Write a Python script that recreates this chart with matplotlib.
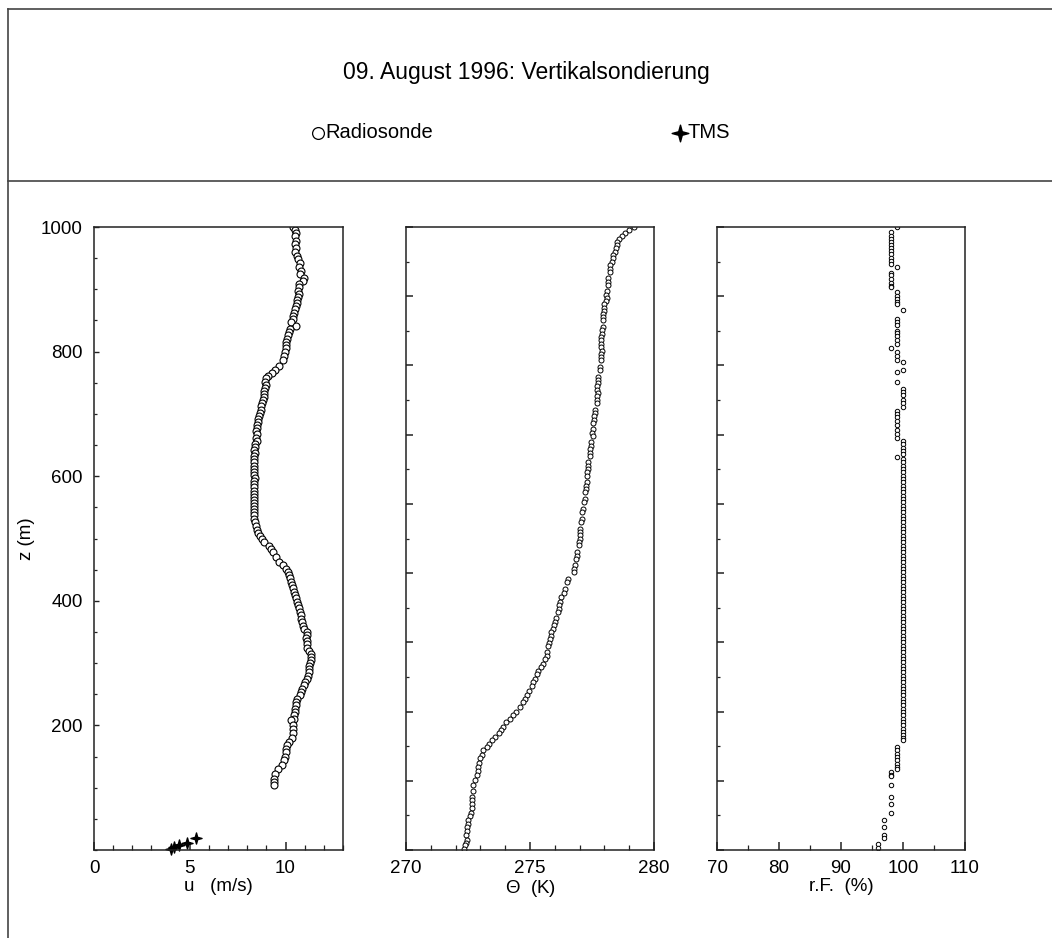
import numpy as np
import matplotlib
matplotlib.use('Agg')
import matplotlib.pyplot as plt
from matplotlib.lines import Line2D
from matplotlib.path import Path
from matplotlib.ticker import MultipleLocator, FixedLocator, NullFormatter

plt.rcParams['font.family'] = ['Liberation Sans', 'DejaVu Sans']
plt.rcParams['mathtext.fontset'] = 'custom'
plt.rcParams['mathtext.rm'] = 'Liberation Sans'
plt.rcParams['mathtext.it'] = 'Liberation Sans:italic'

TITLE = '09. August 1996: Vertikalsondierung'

# ── Radiosonde: wind speed u (m/s) vs height z (m) ──
u_z = [1000, 995, 990, 985, 978, 972, 966, 960, 954, 948, 942, 936, 930, 924, 918, 913,
       908, 903, 898, 893, 888, 883, 878, 873, 868, 862, 857, 852, 847, 841, 836, 831,
       826, 821, 816, 811, 806, 800, 793, 787, 777, 770, 766, 761, 757, 752, 747, 742,
       737, 732, 727, 722, 717, 712, 707, 702, 697, 692, 687, 682, 677, 672, 667, 662,
       657, 652, 647, 642, 637, 632, 627, 622, 617, 612, 607, 602, 597, 592, 587, 582,
       577, 572, 567, 562, 557, 552, 547, 542, 537, 532, 527, 520, 514, 509, 504, 499,
       494, 488, 483, 478, 470, 463, 457, 451, 446, 441, 436, 430, 425, 420, 414, 409,
       404, 398, 393, 388, 382, 377, 371, 366, 360, 355, 350, 345, 340, 335, 330, 325,
       320, 315, 310, 305, 300, 295, 290, 285, 280, 275, 270, 265, 259, 254, 248, 243,
       238, 232, 227, 222, 217, 211, 208, 200, 195, 188, 179, 173, 168, 162, 157, 150,
       144, 136, 130, 122, 114, 109, 104]
u_val = [10.4, 10.5, 10.55, 10.5, 10.55, 10.5, 10.55, 10.5, 10.6, 10.65, 10.75, 10.7, 10.8, 10.75, 10.95, 10.9,
         10.7, 10.7, 10.65, 10.7, 10.65, 10.6, 10.6, 10.55, 10.5, 10.45, 10.4, 10.4, 10.3, 10.55, 10.25, 10.2,
         10.15, 10.1, 10.05, 10.0, 10.0, 9.95, 9.9, 9.85, 9.65, 9.45, 9.3, 9.1, 9.0, 8.95, 9.0, 8.95,
         8.9, 8.85, 8.85, 8.8, 8.75, 8.7, 8.7, 8.65, 8.6, 8.55, 8.55, 8.5, 8.5, 8.45, 8.5, 8.45,
         8.5, 8.4, 8.4, 8.35, 8.4, 8.35, 8.35, 8.35, 8.35, 8.35, 8.35, 8.35, 8.4, 8.35, 8.35, 8.35,
         8.35, 8.35, 8.35, 8.35, 8.35, 8.35, 8.35, 8.35, 8.35, 8.35, 8.4, 8.45, 8.5, 8.55, 8.65, 8.75,
         8.9, 9.15, 9.25, 9.35, 9.5, 9.65, 9.85, 10.0, 10.15, 10.2, 10.25, 10.3, 10.35, 10.4, 10.45, 10.5,
         10.55, 10.6, 10.65, 10.7, 10.75, 10.8, 10.8, 10.85, 10.9, 10.95, 11.1, 11.1, 11.05, 11.1, 11.1, 11.1,
         11.25, 11.35, 11.35, 11.35, 11.3, 11.2, 11.2, 11.2, 11.15, 11.1, 11.0, 10.95, 10.85, 10.8, 10.75, 10.6,
         10.55, 10.55, 10.5, 10.5, 10.45, 10.45, 10.3, 10.4, 10.4, 10.4, 10.35, 10.2, 10.1, 10.05, 10.0, 9.95,
         9.9, 9.8, 9.6, 9.45, 9.4, 9.4, 9.4]

# ── TMS (tower) wind near the ground ──
tms_z = [2, 5, 8, 12, 19]
tms_u = [4.0, 4.2, 4.45, 4.85, 5.35]

# ── Radiosonde: potential temperature Theta (K) ──
th_z = [1000, 995, 990, 985, 981, 976, 971, 966, 960, 955, 950, 944, 939, 933, 928, 918, 912,
        907, 897, 891, 886, 881, 876, 870, 865, 860, 855, 850, 839, 834, 829, 823, 818,
        812, 807, 801, 796, 791, 786, 776, 770, 759, 754, 749, 744, 738, 733, 728, 722,
        717, 707, 702, 697, 691, 686, 675, 670, 665, 655, 649, 644, 638, 633, 623, 617,
        612, 606, 601, 590, 585, 580, 575, 564, 558, 548, 543, 532, 526, 516, 511, 506,
        499, 494, 489, 478, 472, 467, 457, 451, 446, 435, 430, 419, 413, 406, 398, 393,
        387, 382, 372, 366, 361, 355, 350, 344, 339, 333, 328, 318, 312, 306, 299, 294,
        288, 282, 275, 269, 264, 256, 248, 243, 237, 229, 221, 217, 211, 205, 197, 192,
        187, 181, 176, 170, 165, 160, 153, 147, 140, 133, 127, 120, 112, 104, 95, 85,
        80, 74, 67, 60, 54, 48, 42, 37, 30, 24, 16, 12, 8, 2]
th_val = [279.2, 279.0, 278.85, 278.7, 278.6, 278.52, 278.49, 278.47, 278.42, 278.35, 278.33, 278.29, 278.22, 278.22, 278.22, 278.15, 278.15,
          278.15, 278.1, 278.08, 278.1, 278.07, 278.0, 277.98, 278.0, 277.96, 277.95, 277.94, 277.93, 277.9, 277.9, 277.88, 277.88,
          277.86, 277.88, 277.9, 277.86, 277.88, 277.86, 277.82, 277.84, 277.75, 277.76, 277.74, 277.72, 277.72, 277.74, 277.7, 277.72,
          277.7, 277.61, 277.62, 277.58, 277.6, 277.56, 277.55, 277.52, 277.53, 277.44, 277.45, 277.42, 277.43, 277.4, 277.35, 277.34,
          277.33, 277.3, 277.3, 277.28, 277.26, 277.25, 277.22, 277.21, 277.18, 277.12, 277.1, 277.08, 277.05, 277.01, 277.0, 277.0,
          277.01, 276.98, 276.96, 276.9, 276.88, 276.86, 276.81, 276.78, 276.76, 276.54, 276.5, 276.41, 276.36, 276.27, 276.2, 276.18,
          276.16, 276.14, 276.05, 276.0, 275.95, 275.91, 275.86, 275.83, 275.8, 275.77, 275.74, 275.7, 275.67, 275.62, 275.54, 275.45,
          275.33, 275.27, 275.2, 275.13, 275.07, 274.97, 274.87, 274.8, 274.71, 274.58, 274.44, 274.33, 274.2, 274.03, 273.93, 273.83,
          273.73, 273.6, 273.46, 273.36, 273.26, 273.12, 273.05, 272.99, 272.96, 272.92, 272.89, 272.86, 272.8, 272.72, 272.7, 272.65,
          272.66, 272.65, 272.65, 272.63, 272.6, 272.52, 272.5, 272.45, 272.44, 272.42, 272.45, 272.41, 272.39, 272.32]

# ── Radiosonde: relative humidity r.F. (%) ──
rf_z = [1000, 992, 986, 981, 976, 971, 966, 961, 956, 950, 945, 940, 935, 926, 923, 916,
        910, 906, 903, 895, 890, 885, 879, 876, 866, 853, 848, 843, 833, 830, 825, 819,
        813, 806, 799, 793, 787, 783, 771, 767, 751, 740, 735, 730, 722, 717, 711, 705,
        700, 695, 689, 682, 674, 668, 662, 656, 651, 646, 640, 636, 631, 627, 622, 616,
        611, 606, 600, 595, 590, 584, 579, 574, 568, 563, 558, 552, 547, 542, 536, 531,
        526, 520, 515, 510, 504, 499, 494, 488, 483, 478, 472, 467, 462, 456, 451, 446,
        440, 435, 430, 424, 419, 414, 408, 403, 398, 392, 387, 382, 376, 371, 366, 360,
        355, 350, 344, 339, 334, 328, 323, 318, 312, 307, 302, 296, 291, 286, 280, 275,
        270, 264, 259, 254, 248, 243, 238, 232, 227, 222, 216, 211, 206, 200, 195, 190,
        184, 179, 176, 165, 160, 154, 149, 144, 138, 133, 130, 125, 120, 118, 104, 85,
        74, 60, 48, 37, 24, 19, 9, 3]
rf_val = [99, 98, 98, 98, 98, 98, 98, 98, 98, 98, 98, 98, 99, 98, 98, 98,
          98, 98, 98, 99, 99, 99, 99, 99, 100, 99, 99, 99, 99, 99, 99, 99,
          99, 98, 99, 99, 99, 100, 100, 99, 99, 100, 100, 100, 100, 100, 100, 99,
          99, 99, 99, 99, 99, 99, 99, 100, 100, 100, 100, 100, 99, 100, 100, 100,
          100, 100, 100, 100, 100, 100, 100, 100, 100, 100, 100, 100, 100, 100, 100, 100,
          100, 100, 100, 100, 100, 100, 100, 100, 100, 100, 100, 100, 100, 100, 100, 100,
          100, 100, 100, 100, 100, 100, 100, 100, 100, 100, 100, 100, 100, 100, 100, 100,
          100, 100, 100, 100, 100, 100, 100, 100, 100, 100, 100, 100, 100, 100, 100, 100,
          100, 100, 100, 100, 100, 100, 100, 100, 100, 100, 100, 100, 100, 100, 100, 100,
          100, 100, 100, 99, 99, 99, 99, 99, 99, 99, 99, 98, 98, 98, 98, 98,
          98, 98, 97, 97, 97, 97, 96, 96]

W, H = 1052, 938
fig = plt.figure(figsize=(W / 100, H / 100), dpi=100)

def frac(x0, x1, ytop=227, ybot=850):
    return [x0 / W, 1 - ybot / H, (x1 - x0) / W, (ybot - ytop) / H]

ax1 = fig.add_axes(frac(94, 343))
ax2 = fig.add_axes(frac(406, 654))
ax3 = fig.add_axes(frac(717, 965))

star = Path.unit_regular_star(4, 0.3)
circ = dict(marker='o', ls='none', mfc='white', mec='black')

ax1.plot(u_val, u_z, ms=5.0, mew=0.8, **circ)
ax1.plot(tms_u, tms_z, marker=star, ls='none', ms=8, color='black', clip_on=False)
ax2.plot(th_val, th_z, ms=3.6, mew=0.7, **circ)
ax3.plot(rf_val, rf_z, ms=3.2, mew=0.7, **circ)

ax1.set_xlim(0, 13)
ax2.set_xlim(270, 280)
ax3.set_xlim(70, 110)

for ax in (ax1, ax2, ax3):
    ax.set_ylim(0, 1000)
    for s in ax.spines.values():
        s.set_linewidth(1.1)
        s.set_color('#222222')
    ax.tick_params(axis='both', which='both', direction='in', top=False, right=False,
                   labelsize=13.5, color='#222222')
    ax.tick_params(axis='x', which='major', length=6, width=1.1, pad=7)
    ax.tick_params(axis='x', which='minor', length=3.5, width=0.9)

ax1.xaxis.set_major_locator(MultipleLocator(5))
ax1.xaxis.set_minor_locator(MultipleLocator(1))
ax2.xaxis.set_major_locator(MultipleLocator(5))
ax2.xaxis.set_minor_locator(MultipleLocator(1))
ax3.xaxis.set_major_locator(MultipleLocator(10))
ax3.xaxis.set_minor_locator(MultipleLocator(5))

ax1.yaxis.set_major_locator(FixedLocator([200, 400, 600, 800, 1000]))
ax1.yaxis.set_minor_locator(MultipleLocator(50))
ax1.tick_params(axis='y', which='major', length=3.5, width=1.0, pad=8)
ax1.tick_params(axis='y', which='minor', length=2.5, width=0.9)

for ax in (ax2, ax3):
    ax.yaxis.set_major_locator(FixedLocator(np.linspace(0, 1000, 10)))
    ax.yaxis.set_minor_locator(FixedLocator(np.linspace(0, 1000, 19)))
    ax.yaxis.set_major_formatter(NullFormatter())
    ax.tick_params(axis='y', which='major', length=5, width=1.1)
    ax.tick_params(axis='y', which='minor', length=2, width=0.9)

ax1.set_xlabel('u   (m/s)', fontsize=13.5, labelpad=1)
ax2.set_xlabel(r'$\mathit{\Theta}$  (K)', fontsize=13.5, labelpad=1)
ax3.set_xlabel('r.F.  (%)', fontsize=13.5, labelpad=1)
ax1.set_ylabel('z (m)', fontsize=13.5, labelpad=4)

# header frame
fc = '#444444'
fig.add_artist(Line2D([8 / W, 1], [1 - 9 / H] * 2, color=fc, lw=1.2))
fig.add_artist(Line2D([8 / W, 1], [1 - 181 / H] * 2, color=fc, lw=1.2))
fig.add_artist(Line2D([8 / W] * 2, [0, 1 - 9 / H], color=fc, lw=1.2))

fig.text(0.5, 1 - 72 / H, TITLE, ha='center', va='center', fontsize=16.5)
fig.add_artist(Line2D([318 / W], [1 - 133 / H], marker='o', ms=8.5, mfc='white',
                      mec='black', mew=0.9, ls='none'))
fig.text(325 / W, 1 - 133 / H, 'Radiosonde', ha='left', va='center', fontsize=14.5)
fig.add_artist(Line2D([680 / W], [1 - 133 / H], marker=star, ms=12, color='black', ls='none'))
fig.text(687 / W, 1 - 133 / H, 'TMS', ha='left', va='center', fontsize=14.5)

fig.savefig('out.png', dpi=100)
